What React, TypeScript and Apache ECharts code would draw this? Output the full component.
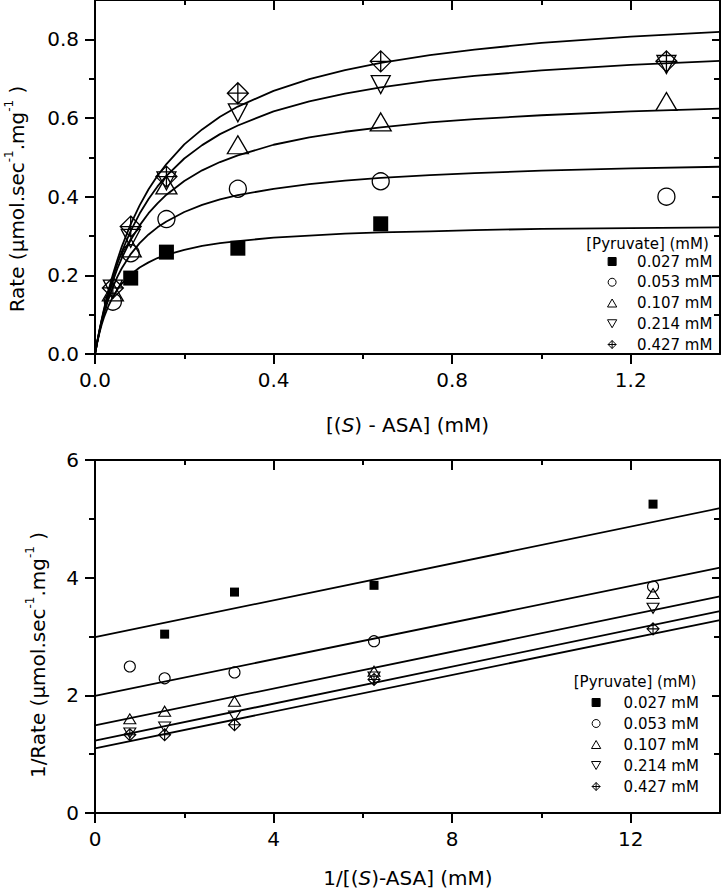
import React, { useEffect, useRef } from 'react';
import * as echarts from 'echarts';

const FONT = "'DejaVu Sans', 'Liberation Sans', sans-serif";
const NAMES = ['0.027 mM', '0.053 mM', '0.107 mM', '0.214 mM', '0.427 mM'];

// ---- Top chart: Michaelis–Menten plot ----
const S_TOP = [0.04, 0.08, 0.16, 0.32, 0.64, 1.28];
const RATE_0027 = [null, 0.193, 0.259, 0.269, 0.331, null];
const RATE_0053 = [0.133, 0.256, 0.343, 0.42, 0.439, 0.4];
const RATE_0107 = [0.158, 0.27, 0.43, 0.532, 0.59, 0.642];
const RATE_0214 = [0.165, 0.294, 0.44, 0.613, 0.685, 0.736];
const RATE_0427 = [0.168, 0.324, 0.451, 0.663, 0.744, 0.744];

// fitted curves
const CURVE_S = [0, 0.005, 0.01, 0.015, 0.02, 0.03, 0.04, 0.05, 0.06, 0.08, 0.1, 0.12, 0.14, 0.16, 0.2, 0.24, 0.28, 0.32, 0.4, 0.48, 0.56, 0.64, 0.75, 0.85, 1.0, 1.2, 1.4];
const CURVE_0027 = [0, 0.029, 0.054, 0.075, 0.093, 0.122, 0.145, 0.164, 0.179, 0.202, 0.22, 0.233, 0.244, 0.252, 0.265, 0.275, 0.282, 0.287, 0.296, 0.301, 0.306, 0.309, 0.312, 0.315, 0.318, 0.32, 0.322];
const CURVE_0053 = [0, 0.03, 0.057, 0.081, 0.102, 0.139, 0.17, 0.196, 0.218, 0.254, 0.282, 0.304, 0.322, 0.337, 0.361, 0.379, 0.393, 0.404, 0.42, 0.432, 0.441, 0.448, 0.455, 0.46, 0.466, 0.472, 0.476];
const CURVE_0107 = [0, 0.031, 0.058, 0.084, 0.107, 0.149, 0.185, 0.217, 0.244, 0.29, 0.327, 0.358, 0.383, 0.405, 0.44, 0.467, 0.488, 0.505, 0.532, 0.551, 0.565, 0.576, 0.589, 0.597, 0.607, 0.617, 0.624];
const CURVE_0214 = [0, 0.031, 0.059, 0.086, 0.11, 0.155, 0.194, 0.229, 0.26, 0.313, 0.357, 0.394, 0.426, 0.453, 0.497, 0.531, 0.559, 0.581, 0.617, 0.642, 0.662, 0.678, 0.695, 0.707, 0.721, 0.735, 0.745];
const CURVE_0427 = [0, 0.032, 0.061, 0.088, 0.114, 0.161, 0.202, 0.239, 0.273, 0.33, 0.378, 0.419, 0.453, 0.483, 0.533, 0.571, 0.603, 0.629, 0.669, 0.699, 0.722, 0.74, 0.76, 0.774, 0.791, 0.807, 0.819];

// ---- Bottom chart: Lineweaver–Burk plot ----
const INV_S = [0.78, 1.56, 3.125, 6.25, 12.5];
const INV_0027 = [null, 3.04, 3.755, 3.87, 5.25];
const INV_0053 = [2.49, 2.29, 2.39, 2.92, 3.85];
const INV_0107 = [1.6, 1.73, 1.9, 2.41, 3.73];
const INV_0214 = [1.36, 1.46, 1.65, 2.31, 3.48];
const INV_0427 = [1.33, 1.33, 1.5, 2.27, 3.13];

const LB_X = [0, 14];
const LB_0027 = [2.99, 5.18];
const LB_0053 = [1.99, 4.17];
const LB_0107 = [1.49, 3.68];
const LB_0214 = [1.23, 3.43];
const LB_0427 = [1.1, 3.28];

// ---- Ticks ----
const TOP_X_LABELS = [0, 0.4, 0.8, 1.2];
const TOP_X_MINOR = [0.2, 0.6, 1.0];
const TOP_Y_LABELS = [0, 0.2, 0.4, 0.6, 0.8];
const TOP_Y_MINOR = [0.1, 0.3, 0.5, 0.7];
const BOT_X_LABELS = [0, 4, 8, 12];
const BOT_X_MINOR = [2, 6, 10];
const BOT_Y_LABELS = [0, 2, 4, 6];
const BOT_Y_MINOR = [1, 3, 5];

const SYMBOLS = [
  'path://M0,0L10,0L10,10L0,10Z',
  'circle',
  'path://M10,0L20,17.32L0,17.32Z',
  'path://M0,0L20,0L10,17.32Z',
  'path://M10,0L20,10L10,20L0,10ZM10,0L10,20M0,10L20,10',
];
const TOP_SIZES: any[] = [15, 17, [21, 18], [19, 18], 21];
const BOT_SIZES: any[] = [9, 11, [12, 10], [12, 10], 12];

const BLACK = '#000';
const LS = { color: BLACK, width: 2 };

function xAxes(grid: number, min: number, max: number, labels: number[], minor: number[], fmt: (v: number) => string) {
  const base = { gridIndex: grid, type: 'value', min, max, splitLine: { show: false }, axisPointer: { show: false } };
  return [
    {
      ...base, position: 'bottom',
      axisLine: { show: true, onZero: false, lineStyle: LS },
      axisTick: { show: true, customValues: labels, length: 10, lineStyle: LS },
      axisLabel: { show: true, customValues: labels, formatter: fmt, margin: 16, color: BLACK, fontSize: 20, fontFamily: FONT },
    },
    {
      ...base, position: 'bottom',
      axisLine: { show: false, onZero: false },
      axisTick: { show: true, customValues: minor, length: 5, lineStyle: LS },
      axisLabel: { show: false },
    },
    {
      ...base, position: 'top',
      axisLine: { show: true, onZero: false, lineStyle: LS },
      axisTick: { show: true, inside: true, customValues: labels, length: 10, lineStyle: LS },
      axisLabel: { show: false },
    },
    {
      ...base, position: 'top',
      axisLine: { show: false, onZero: false },
      axisTick: { show: true, inside: true, customValues: minor, length: 5, lineStyle: LS },
      axisLabel: { show: false },
    },
  ];
}

function yAxes(grid: number, min: number, max: number, labels: number[], minor: number[], fmt: (v: number) => string) {
  const base = { gridIndex: grid, type: 'value', min, max, splitLine: { show: false }, axisPointer: { show: false } };
  return [
    {
      ...base, position: 'left',
      axisLine: { show: true, onZero: false, lineStyle: LS },
      axisTick: { show: true, customValues: labels, length: 10, lineStyle: LS },
      axisLabel: { show: true, customValues: labels, formatter: fmt, margin: 16, color: BLACK, fontSize: 20, fontFamily: FONT },
    },
    {
      ...base, position: 'left',
      axisLine: { show: false, onZero: false },
      axisTick: { show: true, customValues: minor, length: 6, lineStyle: LS },
      axisLabel: { show: false },
    },
    {
      ...base, position: 'right',
      axisLine: { show: true, onZero: false, lineStyle: LS },
      axisTick: { show: true, inside: true, customValues: labels, length: 8, lineStyle: LS },
      axisLabel: { show: false },
    },
    {
      ...base, position: 'right',
      axisLine: { show: false, onZero: false },
      axisTick: { show: true, inside: true, customValues: minor, length: 6, lineStyle: LS },
      axisLabel: { show: false },
    },
  ];
}

function pairs(xs: number[], ys: (number | null)[]) {
  const out: number[][] = [];
  xs.forEach((x, i) => {
    const y = ys[i];
    if (y !== null && y !== undefined) out.push([x, y]);
  });
  return out;
}

function scatterSeries(idx: number, xs: number[], ys: (number | null)[], axisIdx: number, size: any, bw: number) {
  const filled = idx === 0;
  return {
    type: 'scatter',
    name: NAMES[idx],
    xAxisIndex: axisIdx,
    yAxisIndex: axisIdx,
    data: pairs(xs, ys),
    symbol: SYMBOLS[idx],
    symbolSize: size,
    symbolKeepAspect: false,
    z: 5,
    itemStyle: filled
      ? { color: BLACK, borderColor: BLACK, borderWidth: 0, opacity: 1 }
      : { color: 'rgba(0,0,0,0)', borderColor: BLACK, borderWidth: bw, opacity: 1 },
  };
}

function lineSeries(name: string, xs: number[], ys: number[], axisIdx: number) {
  return {
    type: 'line',
    name,
    xAxisIndex: axisIdx,
    yAxisIndex: axisIdx,
    data: pairs(xs, ys),
    showSymbol: false,
    symbol: 'none',
    smooth: false,
    silent: true,
    z: 3,
    lineStyle: { color: BLACK, width: 1.8, join: 'round' },
  };
}

const RICH = {
  t: { fontSize: 20, fontFamily: FONT, fill: BLACK, lineHeight: 28 },
  i: { fontSize: 20, fontFamily: FONT, fill: BLACK, lineHeight: 28, fontStyle: 'italic' },
  s: { fontSize: 12, fontFamily: FONT, fill: BLACK, lineHeight: 14, verticalAlign: 'top' },
};

export default function App() {
  const ref = useRef<HTMLDivElement>(null);
  useEffect(() => {
    if (!ref.current) return;
    const chart = echarts.init(ref.current, undefined, { renderer: 'svg' });
    const topRates = [RATE_0027, RATE_0053, RATE_0107, RATE_0214, RATE_0427];
    const topCurves = [CURVE_0027, CURVE_0053, CURVE_0107, CURVE_0214, CURVE_0427];
    const botInv = [INV_0027, INV_0053, INV_0107, INV_0214, INV_0427];
    const botLines = [LB_0027, LB_0053, LB_0107, LB_0214, LB_0427];

    const series: any[] = [];
    topCurves.forEach((c, i) => series.push(lineSeries('fitTop' + i, CURVE_S, c, 0)));
    botLines.forEach((c, i) => series.push(lineSeries('fitBot' + i, LB_X, c, 4)));
    topRates.forEach((r, i) => series.push(scatterSeries(i, S_TOP, r, 0, TOP_SIZES[i], 1.3)));
    botInv.forEach((r, i) => series.push(scatterSeries(i, INV_S, r, 4, BOT_SIZES[i], 1.1)));

    const legendCommon = {
      data: NAMES,
      orient: 'vertical',
      align: 'left',
      padding: 0,
      itemHeight: 8,
      selectedMode: false,
      itemStyle: { borderWidth: 1 },
      textStyle: { fontSize: 15, fontFamily: FONT, color: BLACK, lineHeight: 15 },
    };

    const option: any = {
      animation: false,
      backgroundColor: '#fff',
      grid: [
        { left: 95, top: 0, width: 625, height: 354 },
        { left: 95, top: 460, width: 625, height: 353 },
      ],
      xAxis: [
        ...xAxes(0, 0, 1.4, TOP_X_LABELS, TOP_X_MINOR, (v: number) => v.toFixed(1)),
        ...xAxes(1, 0, 14, BOT_X_LABELS, BOT_X_MINOR, (v: number) => String(v)),
      ],
      yAxis: [
        ...yAxes(0, 0, 0.9, TOP_Y_LABELS, TOP_Y_MINOR, (v: number) => v.toFixed(1)),
        ...yAxes(1, 0, 6, BOT_Y_LABELS, BOT_Y_MINOR, (v: number) => String(v)),
      ],
      legend: [
        { ...legendCommon, left: 607, top: 254, itemWidth: 40, itemGap: 5.75 },
        { ...legendCommon, left: 591, top: 695, itemWidth: 45, itemGap: 6 },
      ],
      graphic: [
        {
          type: 'text', x: 407.5, y: 425,
          style: { text: '{t|[(}{i|S}{t|) - ASA] (mM)}', rich: RICH, align: 'center', verticalAlign: 'middle' },
        },
        {
          type: 'text', x: 408, y: 878,
          style: { text: '{t|1/[(}{i|S}{t|)-ASA] (mM)}', rich: RICH, align: 'center', verticalAlign: 'middle' },
        },
        {
          type: 'text', x: 17, y: 199, rotation: Math.PI / 2,
          style: { text: '{t|Rate (μmol.sec}{s|-1}{t|.mg}{s|-1}{t| )}', rich: RICH, align: 'center', verticalAlign: 'middle' },
        },
        {
          type: 'text', x: 38, y: 655, rotation: Math.PI / 2,
          style: { text: '{t|1/Rate (μmol.sec}{s|-1}{t|.mg}{s|-1}{t| )}', rich: RICH, align: 'center', verticalAlign: 'middle' },
        },
        {
          type: 'text', x: 647.5, y: 243.5,
          style: { text: '[Pyruvate] (mM)', fontSize: 15, fontFamily: FONT, fill: BLACK, align: 'center', verticalAlign: 'middle' },
        },
        {
          type: 'text', x: 635, y: 681.5,
          style: { text: '[Pyruvate] (mM)', fontSize: 15, fontFamily: FONT, fill: BLACK, align: 'center', verticalAlign: 'middle' },
        },
      ],
      series,
    };
    chart.setOption(option);
    return () => chart.dispose();
  }, []);
  return (
    <div
      ref={ref}
      style={{ position: 'fixed', left: 0, top: 0, width: 723, height: 894, background: '#fff' }}
    />
  );
}
